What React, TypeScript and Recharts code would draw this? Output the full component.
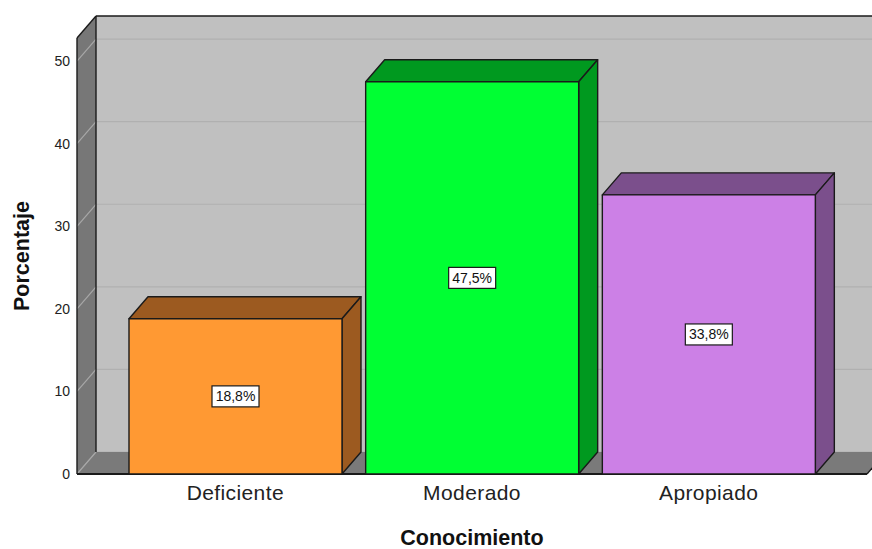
import React from 'react';
import { BarChart, Bar, XAxis, YAxis, ReferenceArea, LabelList } from 'recharts';

// Knowledge level distribution (percent of respondents)
const categories = ['Deficiente', 'Moderado', 'Apropiado'];
const percentages = [18.8, 47.5, 33.8];
const frontColors = ['#ff9933', '#00ff33', '#cc80e6'];
const shadeColors = ['#9c5a20', '#00991f', '#7b4f8c'];
const yTicks = [0, 10, 20, 30, 40, 50];
const Y_MAX = 52.8;

const data = categories.map((category, i) => ({
  category,
  value: percentages[i],
  front: frontColors[i],
  shade: shadeColors[i],
}));

// Depth offset of the pseudo-3D box and bars
const DX = 19;
const DY = 22;
// Inner padding of the category axis (the box spans the full plot width)
const XPAD = 40;
const FONT = '"Liberation Sans", Arial, Helvetica, sans-serif';
const EDGE = '#1a1a1a';

const fmt = (v: number) => `${v.toFixed(1).replace('.', ',')}%`;

function Walls(props: any) {
  const { y, height } = props;
  const x = props.x - XPAD;
  const width = props.width + 2 * XPAD;
  const bottom = y + height;
  const right = x + width;
  const toPx = (v: number) => bottom - (v / Y_MAX) * height;
  return (
    <g>
      {/* back wall */}
      <rect x={x + DX} y={y - DY} width={width} height={height} fill="#c0c0c0" />
      {yTicks.map((t) => (
        <line
          key={`b${t}`}
          x1={x + DX}
          x2={right + DX}
          y1={toPx(t) - DY}
          y2={toPx(t) - DY}
          stroke="#b0b0b0"
          strokeWidth={1.2}
        />
      ))}
      {/* left wall */}
      <polygon
        points={`${x},${y} ${x + DX},${y - DY} ${x + DX},${bottom - DY} ${x},${bottom}`}
        fill="#777777"
      />
      {/* floor */}
      <polygon
        points={`${x},${bottom} ${x + DX},${bottom - DY} ${right + DX},${bottom - DY} ${right},${bottom}`}
        fill="#7a7a7a"
      />
      {yTicks.map((t) => (
        <line
          key={`l${t}`}
          x1={x}
          y1={toPx(t)}
          x2={x + DX}
          y2={toPx(t) - DY}
          stroke="#a8a8a8"
          strokeWidth={1.2}
        />
      ))}
      {/* edges */}
      <line x1={x + DX} y1={y - DY} x2={right + DX + 40} y2={y - DY} stroke={EDGE} strokeWidth={1.6} />
      <line x1={x} y1={y} x2={x + DX} y2={y - DY} stroke={EDGE} strokeWidth={1.4} />
      <line x1={x + DX} y1={y - DY} x2={x + DX} y2={bottom - DY} stroke={EDGE} strokeWidth={1.4} />
      <line x1={x} y1={y} x2={x} y2={bottom} stroke={EDGE} strokeWidth={1.4} />
      <line x1={right} y1={bottom} x2={right + DX} y2={bottom - DY} stroke={EDGE} strokeWidth={1.4} />
      <line x1={x} y1={bottom} x2={right} y2={bottom} stroke={EDGE} strokeWidth={2} />
    </g>
  );
}

function Bar3D(props: any) {
  const { x, y, width, height, payload } = props;
  if (width == null || height == null) return null;
  const right = x + width;
  const bottom = y + height;
  return (
    <g stroke={EDGE} strokeWidth={1.4} strokeLinejoin="round">
      <polygon
        points={`${x},${y} ${x + DX},${y - DY} ${right + DX},${y - DY} ${right},${y}`}
        fill={payload.shade}
      />
      <polygon
        points={`${right},${y} ${right + DX},${y - DY} ${right + DX},${bottom - DY} ${right},${bottom}`}
        fill={payload.shade}
      />
      <rect x={x} y={y} width={width} height={height} fill={payload.front} />
    </g>
  );
}

function ValueBox(props: any) {
  const { x, y, width, height, value } = props;
  const text = fmt(Number(value));
  const cx = x + width / 2;
  const cy = y + height / 2;
  const w = text.length * 9.2 + 1;
  const h = 21;
  return (
    <g>
      <rect x={cx - w / 2} y={cy - h / 2} width={w} height={h} fill="#ffffff" stroke={EDGE} strokeWidth={1.2} />
      <text
        x={cx}
        y={cy}
        textAnchor="middle"
        dominantBaseline="central"
        fontFamily={FONT}
        fontSize={14}
        fill="#111"
      >
        {text}
      </text>
    </g>
  );
}

function YTitle(props: any) {
  const vb = props.viewBox || { x: 0, y: 38, width: 77, height: 436 };
  const cx = vb.x + 22;
  const cy = vb.y + vb.height / 2;
  return (
    <text
      x={cx}
      y={cy}
      transform={`rotate(-90 ${cx} ${cy})`}
      textAnchor="middle"
      dominantBaseline="central"
      fontFamily={FONT}
      fontWeight="bold"
      fontSize={21.5}
      fill="#111"
    >
      Porcentaje
    </text>
  );
}

function XTitle(props: any) {
  const vb = props.viewBox || { x: 77, y: 474, width: 790, height: 75 };
  return (
    <text
      x={vb.x + vb.width / 2}
      y={vb.y + vb.height - 4}
      textAnchor="middle"
      fontFamily={FONT}
      fontWeight="bold"
      fontSize={21.5}
      fill="#111"
    >
      Conocimiento
    </text>
  );
}

export default function App() {
  return (
    <div style={{ position: 'absolute', left: 0, top: 0, width: 872, height: 549, background: '#fff' }}>
      <BarChart
        width={872}
        height={549}
        data={data}
        margin={{ top: 38, right: 5, bottom: 0, left: 0 }}
      >
        <ReferenceArea y1={0} y2={Y_MAX} ifOverflow="visible" shape={Walls} zIndex={-50} />
        <XAxis
          dataKey="category"
          interval={0}
          height={75}
          padding={{ left: XPAD, right: XPAD }}
          axisLine={false}
          tickLine={false}
          tickSize={0}
          tickMargin={11}
          tick={{ fontFamily: FONT, fontSize: 21, letterSpacing: 0.4, fill: '#222' }}
          label={{ value: 'Conocimiento', content: XTitle }}
        />
        <YAxis
          type="number"
          domain={[0, Y_MAX]}
          ticks={yTicks}
          width={77}
          axisLine={false}
          tickLine={false}
          tickSize={0}
          tickMargin={7}
          tick={{ fontFamily: FONT, fontSize: 14, fill: '#222' }}
          label={{ value: 'Porcentaje', content: YTitle }}
        />
        <Bar dataKey="value" barSize={213} shape={Bar3D} isAnimationActive={false}>
          <LabelList dataKey="value" content={ValueBox} />
        </Bar>
      </BarChart>
    </div>
  );
}
